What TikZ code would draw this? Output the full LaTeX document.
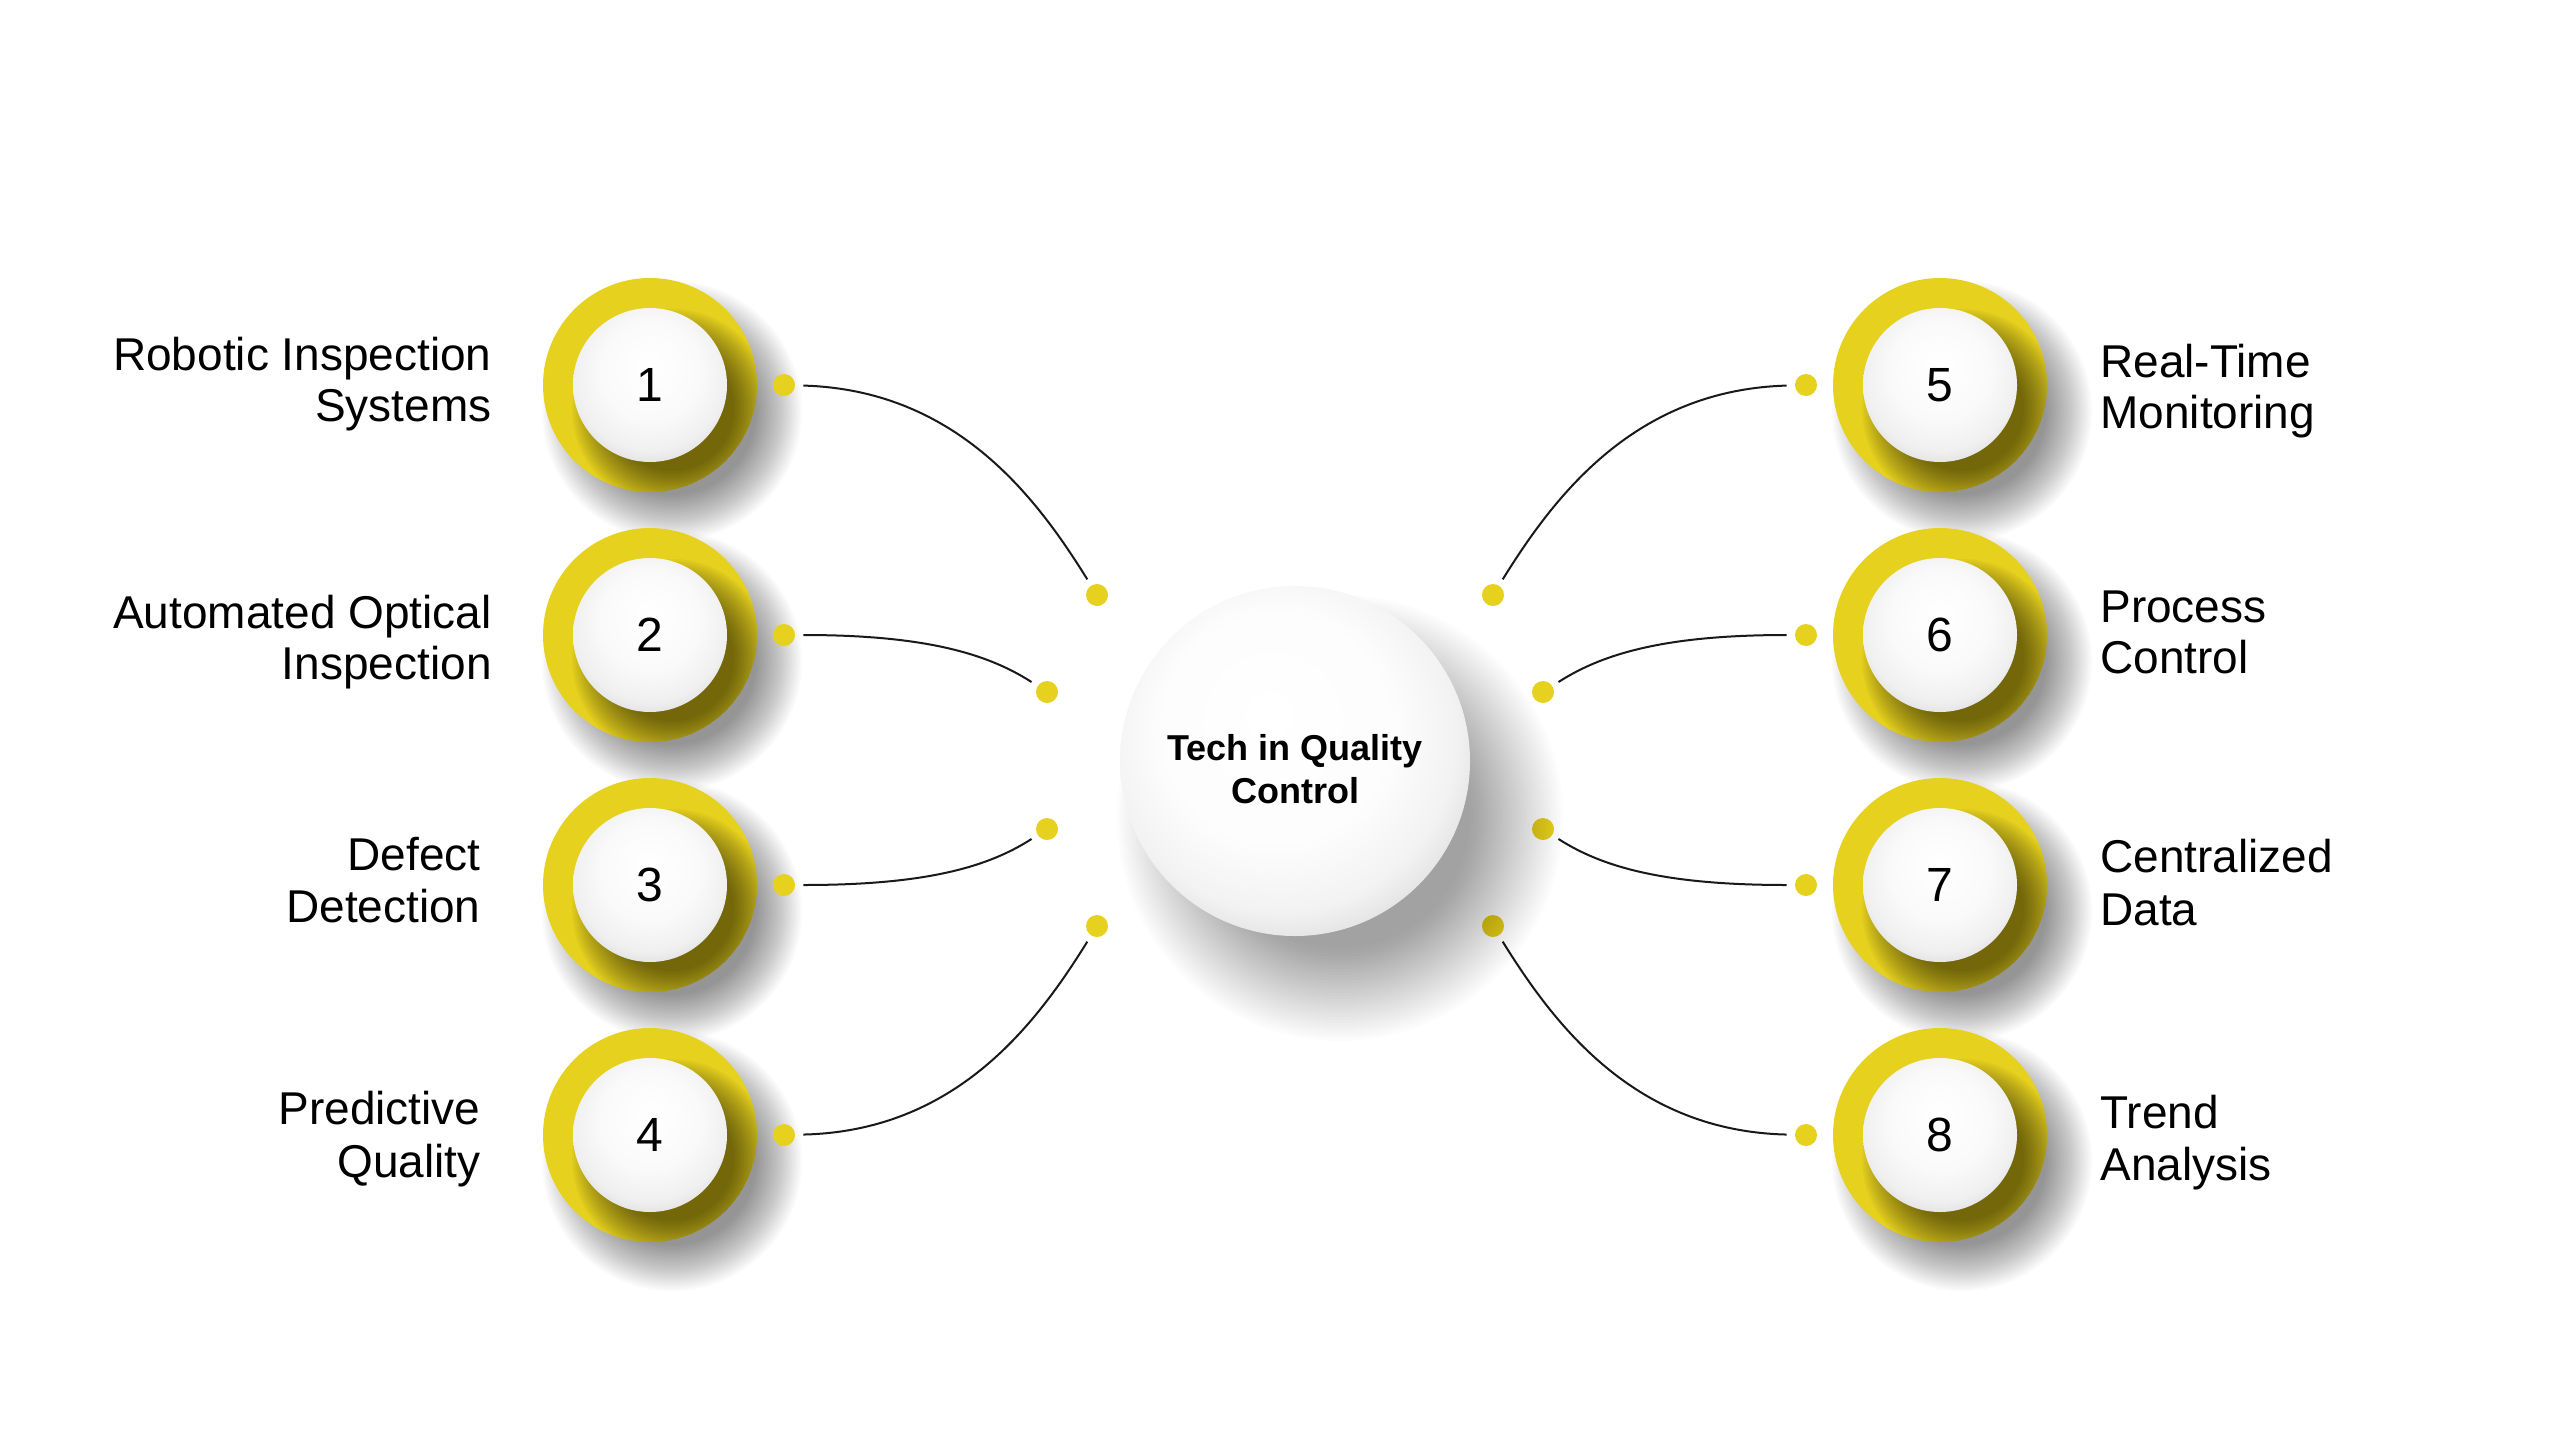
\documentclass[tikz,border=0pt]{standalone}
\usepackage{fontspec}
\setmainfont{Liberation Sans}
\definecolor{yel}{RGB}{230,209,30}
\definecolor{ink}{RGB}{25,25,25}
\pgfdeclareradialshading{ballshade}{\pgfpoint{0bp}{7bp}}{color(0bp)=(white); color(16bp)=(white!98!black); color(25bp)=(white!94!black); color(31bp)=(white!86!black); color(50bp)=(white!86!black)}
\pgfdeclareradialshading{bigshade}{\pgfpoint{-4bp}{7bp}}{color(0bp)=(white); color(17bp)=(white!99!black); color(25bp)=(white!95!black); color(31bp)=(white!86!black); color(50bp)=(white!86!black)}
\begin{document}
\begin{tikzpicture}[x=0.5pt,y=-0.5pt,
  dot/.style={circle, fill=yel, minimum size=11pt, inner sep=0pt},
  conn/.style={draw=ink, line width=1pt, shorten <=4pt, shorten >=3.5pt},
  ball/.style={circle, inner sep=0pt, shade, shading=ballshade, minimum size=77pt},
  numtxt/.style={font=\fontsize{24pt}{24pt}\selectfont, text=black},
  lab/.style={inner sep=0pt, font=\fontsize{23pt}{25.5pt}\selectfont, text=black},
  hubtxt/.style={inner sep=0pt, align=center, font=\bfseries\fontsize{18pt}{21.5pt}\selectfont, text=black}]
\useasboundingbox (0,0) rectangle (2560,1440);
\fill[white] (0,0) rectangle (2560,1440);

% numbered rings
\foreach \x/\y/\n in {650/385/1,650/635/2,650/885/3,650/1135/4,1940/385/5,1940/635/6,1940/885/7,1940/1135/8}{
  \foreach \k in {0,...,23}{\fill[black, fill opacity=0.018] (\x+22,\y+26) circle[radius=84+\k*2];}
  \fill[yel] (\x,\y) circle[radius=107];
  \begin{scope}
    \clip (\x,\y) circle[radius=107];
    \foreach \k in {0,...,19}{\fill[black, fill opacity=0.033] (\x+22,\y+24) circle[radius=62+\k*2];}
  \end{scope}
  \node[ball, numtxt] (n\n) at (\x,\y) {\n};
}

% dots
\node[dot] (a1) at (784,385) {};
\node[dot] (a2) at (784,635) {};
\node[dot] (a3) at (784,885) {};
\node[dot] (a4) at (784,1135) {};
\node[dot] (a5) at (1806,385) {};
\node[dot] (a6) at (1806,635) {};
\node[dot] (a7) at (1806,885) {};
\node[dot] (a8) at (1806,1135) {};
\node[dot] (b1) at (1097,595) {};
\node[dot] (b2) at (1047,692) {};
\node[dot] (b3) at (1047,829) {};
\node[dot] (b4) at (1097,926) {};
\node[dot] (b5) at (1493,595) {};
\node[dot] (b6) at (1543,692) {};
\node[dot] (b7) at (1543,829) {};
\node[dot] (b8) at (1493,926) {};

% connectors
\draw[conn] (a1) .. controls (955,390) and (1035,495) .. (b1);
\draw[conn] (a2) .. controls (920,635) and (985,652) .. (b2);
\draw[conn] (a3) .. controls (920,885) and (985,869) .. (b3);
\draw[conn] (a4) .. controls (955,1131) and (1035,1026) .. (b4);
\draw[conn] (a5) .. controls (1635,390) and (1555,495) .. (b5);
\draw[conn] (a6) .. controls (1670,635) and (1605,652) .. (b6);
\draw[conn] (a7) .. controls (1670,885) and (1605,869) .. (b7);
\draw[conn] (a8) .. controls (1635,1131) and (1555,1026) .. (b8);

% hub
\foreach \k in {0,...,31}{\fill[black, fill opacity=0.013] (1340,818) circle[radius=130+\k*3];}
\node[ball, shading=bigshade, minimum size=175pt] (hub) at (1295,761) {};
\node[hubtxt] (hubt) at (1295,769) {Tech in Quality\\Control};

% labels left
\node[lab, anchor=base east] (l1a) at (492,370) {Robotic Inspection};
\node[lab, anchor=base east] (l1b) at (492,421) {Systems};
\node[lab, anchor=base east] (l2a) at (492,628) {Automated Optical};
\node[lab, anchor=base east] (l2b) at (492,679) {Inspection};
\node[lab, anchor=base east] (l3a) at (481,870) {Defect};
\node[lab, anchor=base east] (l3b) at (481,922) {Detection};
\node[lab, anchor=base east] (l4a) at (481,1124) {Predictive};
\node[lab, anchor=base east] (l4b) at (481,1177) {Quality};
% labels right
\node[lab, anchor=base west] (r1a) at (2100,377) {Real-Time};
\node[lab, anchor=base west] (r1b) at (2100,428) {Monitoring};
\node[lab, anchor=base west] (r2a) at (2100,622) {Process};
\node[lab, anchor=base west] (r2b) at (2100,673) {Control};
\node[lab, anchor=base west] (r3a) at (2100,872) {Centralized};
\node[lab, anchor=base west] (r3b) at (2100,925) {Data};
\node[lab, anchor=base west] (r4a) at (2100,1128) {Trend};
\node[lab, anchor=base west] (r4b) at (2100,1180) {Analysis};
\end{tikzpicture}
\end{document}
